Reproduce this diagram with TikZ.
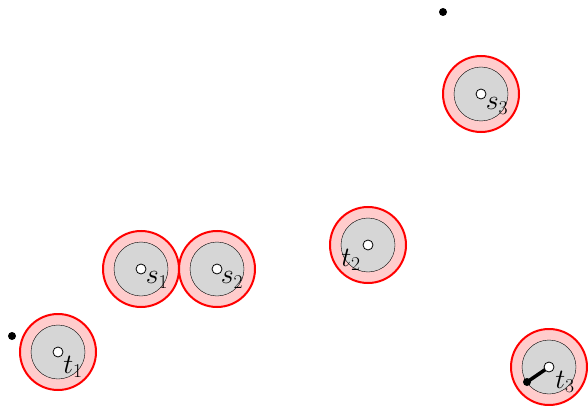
\documentclass[tikz,border=0pt]{standalone}
\usepackage{fix-cm}
\usetikzlibrary{positioning}
\tikzset{
  ring/.style={circle, draw=red, fill=red!20, line width=2pt, minimum size=76pt, inner sep=0pt},
  core/.style={circle, draw=black, fill=black!16, line width=0.4pt, minimum size=54pt, inner sep=0pt},
  hole/.style={circle, draw=black, fill=white, line width=0.8pt, minimum size=10pt, inner sep=0pt},
  pin/.style={circle, fill=black, minimum size=8pt, inner sep=0pt},
  tag/.style={inner sep=0pt, font=\fontsize{28}{30}\selectfont},
}
\begin{document}
\begin{tikzpicture}[x=1pt,y=1pt,yscale=-1]
    \useasboundingbox (0,0) rectangle (588,406);
    % discs
    \node[ring] (rt1) at (58,352) {};
    \node[core] (ct1) at (rt1) {};
    \node[hole] (t1) at (rt1) {};
    \node[ring] (rs1) at (141,269) {};
    \node[core] (cs1) at (rs1) {};
    \node[hole] (s1) at (rs1) {};
    \node[ring] (rs2) at (217,269) {};
    \node[core] (cs2) at (rs2) {};
    \node[hole] (s2) at (rs2) {};
    \node[ring] (rt2) at (368,245) {};
    \node[core] (ct2) at (rt2) {};
    \node[hole] (t2) at (rt2) {};
    \node[ring] (rs3) at (481,94) {};
    \node[core] (cs3) at (rs3) {};
    \node[hole] (s3) at (rs3) {};
    \node[ring] (rt3) at (549,367) {};
    \node[core] (ct3) at (rt3) {};
    % points
    \node[pin] (p1) at (12,336) {};
    \node[pin] (p2) at (443,12) {};
    \node[pin] (p3) at (527,382) {};
    \draw[line width=3.5pt, line cap=round] (p3.center) -- (rt3.center);
    \node[hole] (t3) at (rt3) {};
    % labels
    \node[tag] (lt1) at (73,367) {$t_1$};
    \node[tag] (ls1) at (157,280) {$s_1$};
    \node[tag] (ls2) at (232,280) {$s_2$};
    \node[tag] (lt2) at (351,260) {$t_2$};
    \node[tag] (ls3) at (497,106) {$s_3$};
    \node[tag] (lt3) at (565,382) {$t_3$};
\end{tikzpicture}
\end{document}
